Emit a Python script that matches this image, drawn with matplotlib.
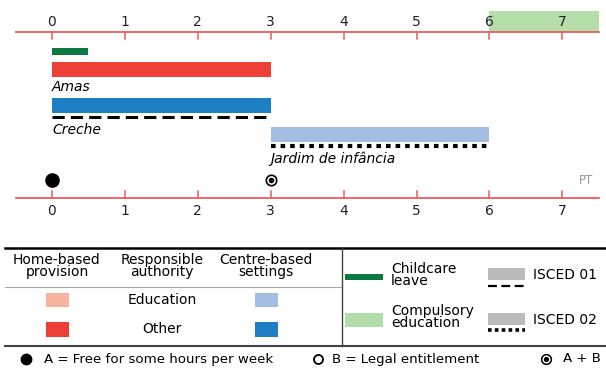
import matplotlib
matplotlib.use("Agg")
import matplotlib.pyplot as plt
from matplotlib.patches import Rectangle

plt.rcParams['font.family'] = ['Liberation Sans Narrow', 'DejaVu Sans']

# ---- data ----
ages = [0, 1, 2, 3, 4, 5, 6, 7]
compulsory = (6, 7.5)
childcare_leave = (0, 0.5)
amas = (0, 3)          # home-based, other authority
creche = (0, 3)        # centre-based, other, ISCED 01
jardim = (3, 6)        # centre-based, education, ISCED 02
free_hours_age = 0     # A
both_age = 3           # A + B
country = "PT"

RED = '#EE4036'
SALMON = '#F6B4A0'
BLUE = '#1E7FC4'
LBLUE = '#A3BDE3'
DGREEN = '#0A7A40'
LGREEN = '#B5DDAA'
AXC = '#EF5B5B'

W, H = 606, 368
fig = plt.figure(figsize=(W / 100, H / 100), dpi=100)

# chart axes: x in years, y in pixels
px0, ppu = 52.0, 72.9
ax = fig.add_axes([0, 0, 1, 1])
ax.set_xlim(-px0 / ppu, (W - px0) / ppu)
ax.set_ylim(H, 0)
ax.axis('off')

xmin, xmax = -0.5, 7.5
# compulsory band
ax.add_patch(Rectangle((compulsory[0], 11), compulsory[1] - compulsory[0], 21,
                       color=LGREEN, lw=0, zorder=1))
for yl, tdir, ly in [(32, 1, 22), (198, -1, 211)]:
    ax.plot([xmin, xmax], [yl, yl], color=AXC, lw=1.3, zorder=3)
    for a in ages:
        ax.plot([a, a], [yl, yl + 7 * tdir], color=AXC, lw=1.1, zorder=3)
        ax.text(a, ly, str(a), ha='center', va='center', fontsize=10, color='#222222')

# bars
ax.add_patch(Rectangle((childcare_leave[0], 47.5), childcare_leave[1] - childcare_leave[0], 7,
                       color=DGREEN, lw=0))
ax.add_patch(Rectangle((amas[0], 62), amas[1] - amas[0], 15, color=RED, lw=0))
ax.text(amas[0], 87, 'Amas', fontsize=10, style='italic', va='center', ha='left')
ax.add_patch(Rectangle((creche[0], 98), creche[1] - creche[0], 15, color=BLUE, lw=0))
ax.plot([creche[0], creche[1]], [117, 117], color='black', lw=2.2,
        linestyle=(0, (4.0, 2.0)), dash_capstyle='butt')
ax.text(creche[0], 130, 'Creche', fontsize=10, style='italic', va='center', ha='left')
ax.add_patch(Rectangle((jardim[0], 127), jardim[1] - jardim[0], 15, color=LBLUE, lw=0))
ax.plot([jardim[0], jardim[1]], [145.5, 145.5], color='black', lw=3.0,
        linestyle=(0, (1.1, 1.2)), dash_capstyle='butt')
ax.text(jardim[0], 159, 'Jardim de infância', fontsize=10, style='italic', va='center', ha='left')

# markers
ax.plot([free_hours_age], [180], 'o', color='black', ms=9.5)
ax.plot([both_age], [180], 'o', mfc='white', mec='black', ms=7.5, mew=1.2)
ax.plot([both_age], [180], 'o', color='black', ms=3.0)
ax.text(xmax - 0.08, 181, country, ha='right', va='center', fontsize=8.5, color='#999999')

# ---- legend (pixel coordinates) ----
lg = fig.add_axes([0, 0, 1, 1])
lg.set_xlim(0, W)
lg.set_ylim(H, 0)
lg.axis('off')

lg.plot([5, W], [248, 248], color='black', lw=1.8)
lg.plot([5, W], [346, 346], color='#444444', lw=1.5)
lg.plot([5, 342], [287, 287], color='#AAAAAA', lw=0.8)
lg.plot([342, 342], [248, 346], color='#444444', lw=1.0)

fs = 10
lg.text(57, 266, 'Home-based\nprovision', ha='center', va='center', fontsize=fs, linespacing=0.85)
lg.text(162, 266, 'Responsible\nauthority', ha='center', va='center', fontsize=fs, linespacing=0.85)
lg.text(266, 266, 'Centre-based\nsettings', ha='center', va='center', fontsize=fs, linespacing=0.85)

lg.add_patch(Rectangle((46, 293), 23, 14, color=SALMON, lw=0))
lg.add_patch(Rectangle((46, 322), 23, 15, color=RED, lw=0))
lg.add_patch(Rectangle((255, 293), 23, 14, color=LBLUE, lw=0))
lg.add_patch(Rectangle((255, 322), 23, 15, color=BLUE, lw=0))
lg.text(162, 300, 'Education', ha='center', va='center', fontsize=fs)
lg.text(162, 329, 'Other', ha='center', va='center', fontsize=fs)

lg.add_patch(Rectangle((345, 274), 38, 6, color=DGREEN, lw=0))
lg.text(391, 275, 'Childcare\nleave', ha='left', va='center', fontsize=fs, linespacing=0.85)
lg.add_patch(Rectangle((345, 313), 38, 14, color=LGREEN, lw=0))
lg.text(391, 317, 'Compulsory\neducation', ha='left', va='center', fontsize=fs, linespacing=0.85)

lg.add_patch(Rectangle((488, 268), 37, 12, color='#BBBBBB', lw=0))
lg.plot([488, 525], [286, 286], color='black', lw=1.6, linestyle=(0, (4, 2)), dash_capstyle='butt')
lg.text(533, 275, 'ISCED 01', ha='left', va='center', fontsize=fs)
lg.add_patch(Rectangle((488, 313), 37, 12, color='#BBBBBB', lw=0))
lg.plot([488, 525], [330, 330], color='black', lw=2.6, linestyle=(0, (1.0, 0.9)), dash_capstyle='butt')
lg.text(533, 320, 'ISCED 02', ha='left', va='center', fontsize=fs)

# footer
ffs = 9.6
lg.plot([26], [359], 'o', color='black', ms=7.5)
lg.text(44, 359, 'A = Free for some hours per week', ha='left', va='center', fontsize=ffs)
lg.plot([318], [359], 'o', mfc='white', mec='black', ms=6.5, mew=1.3)
lg.text(332, 359, 'B = Legal entitlement', ha='left', va='center', fontsize=ffs)
lg.plot([546], [359], 'o', mfc='white', mec='black', ms=7, mew=1.1)
lg.plot([546], [359], 'o', color='black', ms=2.8)
lg.text(563, 359, 'A + B', ha='left', va='center', fontsize=ffs)

fig.savefig('out.png', dpi=100)
